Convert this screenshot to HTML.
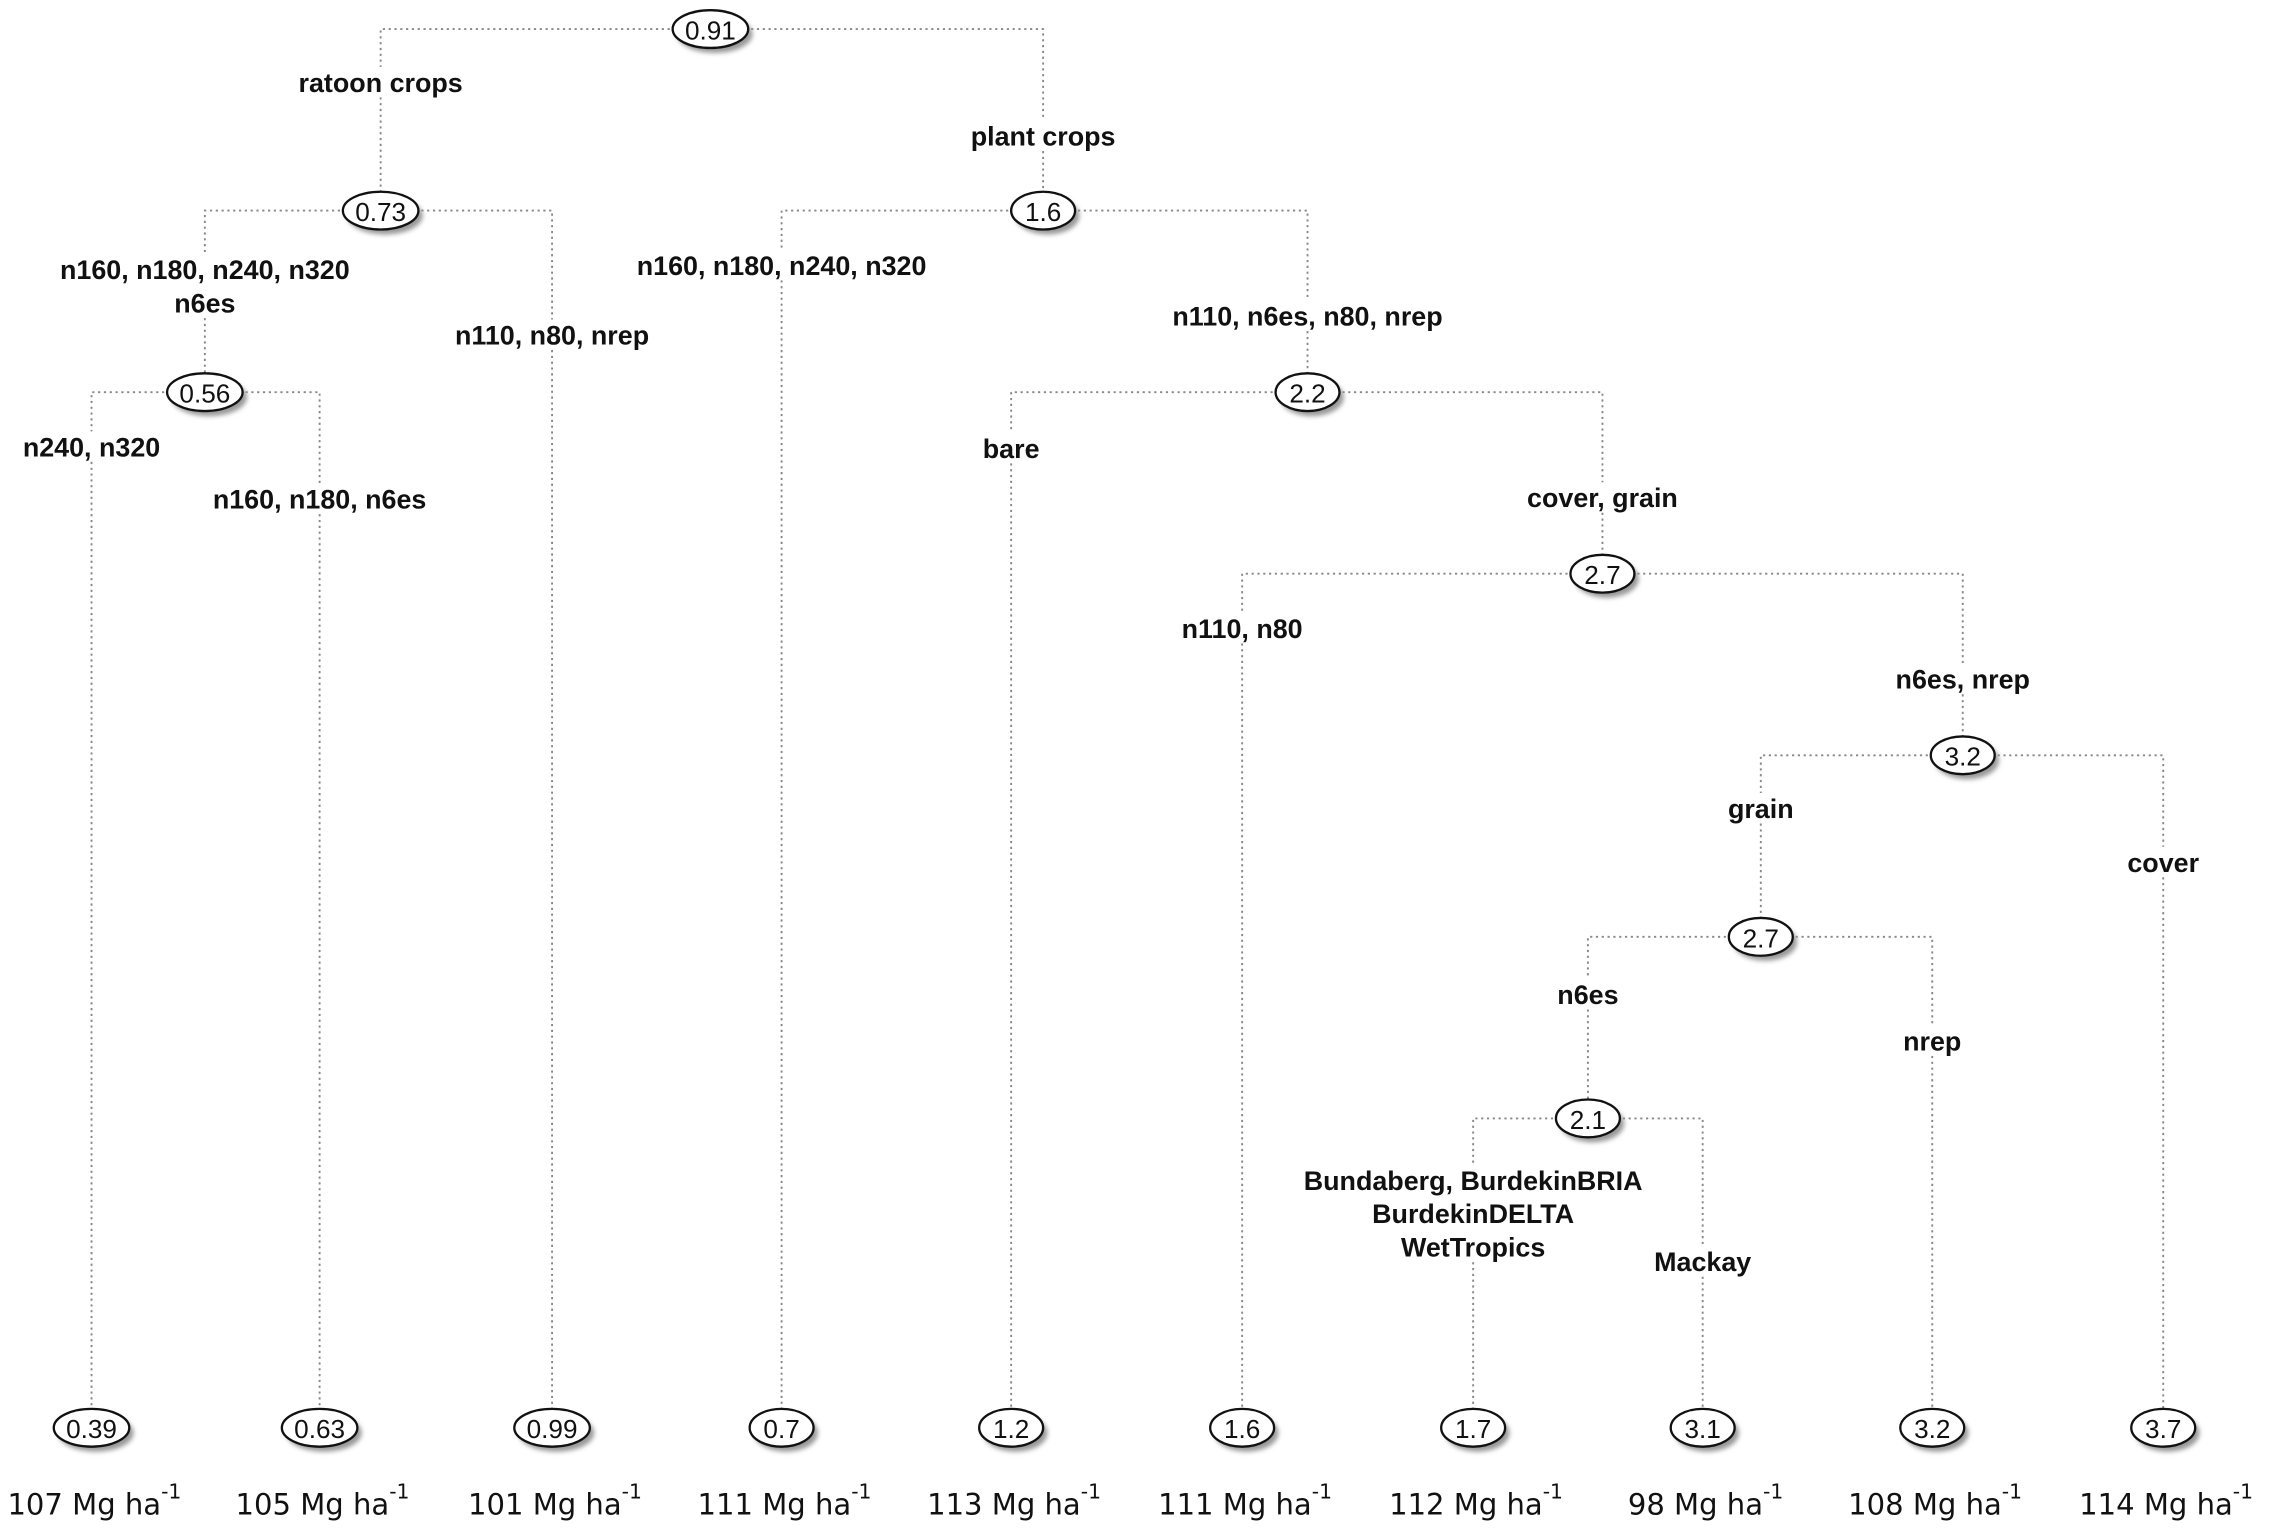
<!DOCTYPE html>
<html><head><meta charset="utf-8"><style>
html,body{margin:0;padding:0;background:#fff;}
svg{display:block;}
</style></head><body>
<svg id="tree" width="2278" height="1528" viewBox="0 0 1568 1052" preserveAspectRatio="none" xmlns="http://www.w3.org/2000/svg">
<defs><filter id="sh" x="-30%" y="-50%" width="160%" height="200%"><feGaussianBlur stdDeviation="1.6"/></filter></defs>
<g id="edges"></g><g id="labels"></g><g id="nodes"></g><g id="yields"></g>
</svg>
<script>
const nodeValues = ["0.91","0.73","1.6","0.56","2.2","2.7","3.2","2.7","2.1"];
const nodeX = [489,262,718,141,900,1103,1351,1212,1093];
const nodeY = [20,145,145,270,270,395,520,645,770];
const leafValues = ["0.39","0.63","0.99","0.7","1.2","1.6","1.7","3.1","3.2","3.7"];
const leafX = [63,220,380,538,696,855,1014,1172,1330,1489];
const yieldValues = [107,105,101,111,113,111,112,98,108,114];
const edges = [
 [0,'n',1,["ratoon crops"],57],[0,'n',2,["plant crops"],94],
 [1,'n',3,["n160, n180, n240, n320","n6es"],186],[1,'l',2,["n110, n80, nrep"],231],
 [2,'l',3,["n160, n180, n240, n320"],183],[2,'n',4,["n110, n6es, n80, nrep"],218],
 [3,'l',0,["n240, n320"],308],[3,'l',1,["n160, n180, n6es"],344],
 [4,'l',4,["bare"],309],[4,'n',5,["cover, grain"],343],
 [5,'l',5,["n110, n80"],433],[5,'n',6,["n6es, nrep"],468],
 [6,'n',7,["grain"],557],[6,'l',9,["cover"],594],
 [7,'n',8,["n6es"],685],[7,'l',8,["nrep"],717],
 [8,'l',6,["Bundaberg, BurdekinBRIA","BurdekinDELTA","WetTropics"],813],[8,'l',7,["Mackay"],869]
];
const leafY = 983, yieldY = 1036;
const NS="http://www.w3.org/2000/svg";
function mk(tag,attrs,parent){const e=document.createElementNS(NS,tag);for(const k in attrs)e.setAttribute(k,attrs[k]);parent.appendChild(e);return e;}
const gE=document.getElementById('edges'),gL=document.getElementById('labels'),gN=document.getElementById('nodes'),gY=document.getElementById('yields');
const lineStyle={stroke:'#888','stroke-width':1.3,'stroke-dasharray':'1.5,2.5',fill:'none'};
edges.forEach(([p,t,c,lines,ly],i)=>{
  const px=nodeX[p],py=nodeY[p];
  const cx=t==='n'?nodeX[c]:leafX[c], cy=t==='n'?nodeY[c]:leafY;
  const top=ly-11, bot=ly+(lines.length-1)*23+10;
  const pth=mk('path',Object.assign({d:`M${px},${py} H${cx} V${top} M${cx},${bot} V${cy}`},lineStyle),gE);
  
  
  lines.forEach((s,j)=>{
    const tx=mk('text',{x:cx,y:ly+j*23,'text-anchor':'middle','dominant-baseline':'central','font-family':'Liberation Sans, sans-serif','font-weight':'bold','font-size':18.5,fill:'#111'},gL);
    tx.textContent=s;
    
    
  });
});
function drawNode(x,y,v,name){
  const g=mk('g',{},gN);
  
  
  const w=v.length>3?26:22;
  mk('ellipse',{cx:x+3,cy:y+3.5,rx:w,ry:13,fill:'#999',filter:'url(#sh)'},g);
  mk('ellipse',{cx:x,cy:y,rx:w,ry:13,fill:'#fff',stroke:'#111','stroke-width':1.6},g);
  const t=mk('text',{x:x,y:y+1,'text-anchor':'middle','dominant-baseline':'central','font-family':'Liberation Sans, sans-serif','font-size':18,fill:'#111'},g);
  t.textContent=v;
}
nodeValues.forEach((v,i)=>drawNode(nodeX[i],nodeY[i],v,'node-'+i));
leafValues.forEach((v,i)=>drawNode(leafX[i],leafY,v,'leaf-'+i));
yieldValues.forEach((v,i)=>{
  const t=mk('text',{x:leafX[i]+2,y:yieldY,'text-anchor':'middle','dominant-baseline':'central','font-family':'DejaVu Sans, sans-serif','font-size':20,fill:'#111'},gY);
  
  
  t.innerHTML=v+' Mg ha<tspan dy="-9" font-size="14">-1</tspan>';
});
</script>
</body></html>
